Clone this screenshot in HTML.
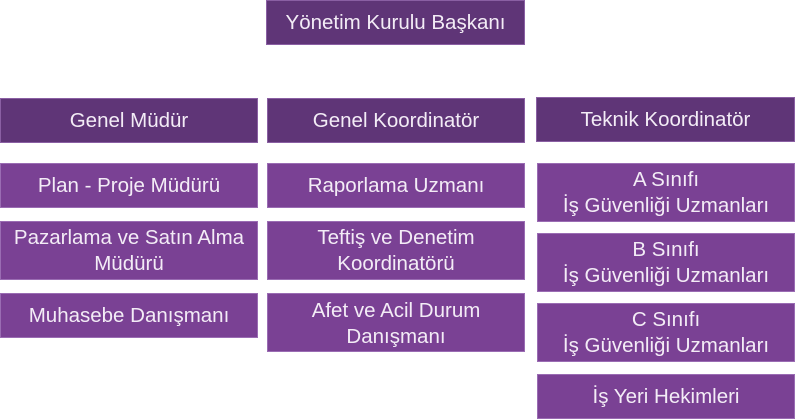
<!DOCTYPE html>
<html><head><meta charset="utf-8"><style>
body{margin:0;width:796px;height:420px;background:#fff;position:relative;overflow:hidden;font-family:"Liberation Sans",sans-serif;}
.b{position:absolute;box-sizing:border-box;border:1px solid #9a6cb3;background:#7a4194;color:#f3ecf6;font-size:20.5px;line-height:26px;display:flex;align-items:center;justify-content:center;text-align:center;white-space:nowrap;}
.d{background:#5f3577;border-color:#8a5fa3;}
</style></head><body>
<div class="b d" style="left:266px;top:0;width:259px;height:45px">Yönetim Kurulu Başkanı</div>
<div class="b d" style="left:0;top:98px;width:258px;height:45px">Genel Müdür</div>
<div class="b d" style="left:267px;top:98px;width:258px;height:45px">Genel Koordinatör</div>
<div class="b d" style="left:536px;top:97px;width:259px;height:45px">Teknik Koordinatör</div>
<div class="b" style="left:0;top:163px;width:258px;height:45px">Plan - Proje Müdürü</div>
<div class="b" style="left:0;top:221px;width:258px;height:59px">Pazarlama ve Satın Alma<br>Müdürü</div>
<div class="b" style="left:0;top:293px;width:258px;height:45px">Muhasebe Danışmanı</div>
<div class="b" style="left:267px;top:163px;width:258px;height:45px">Raporlama Uzmanı</div>
<div class="b" style="left:267px;top:221px;width:258px;height:59px">Teftiş ve Denetim<br>Koordinatörü</div>
<div class="b" style="left:267px;top:293px;width:258px;height:59px;align-items:flex-start;padding-top:4px">Afet ve Acil Durum<br>Danışmanı</div>
<div class="b" style="left:537px;top:163px;width:258px;height:59px">A Sınıfı<br>İş Güvenliği Uzmanları</div>
<div class="b" style="left:537px;top:233px;width:258px;height:59px">B Sınıfı<br>İş Güvenliği Uzmanları</div>
<div class="b" style="left:537px;top:303px;width:258px;height:59px">C Sınıfı<br>İş Güvenliği Uzmanları</div>
<div class="b" style="left:537px;top:374px;width:258px;height:45px">İş Yeri Hekimleri</div>
</body></html>
